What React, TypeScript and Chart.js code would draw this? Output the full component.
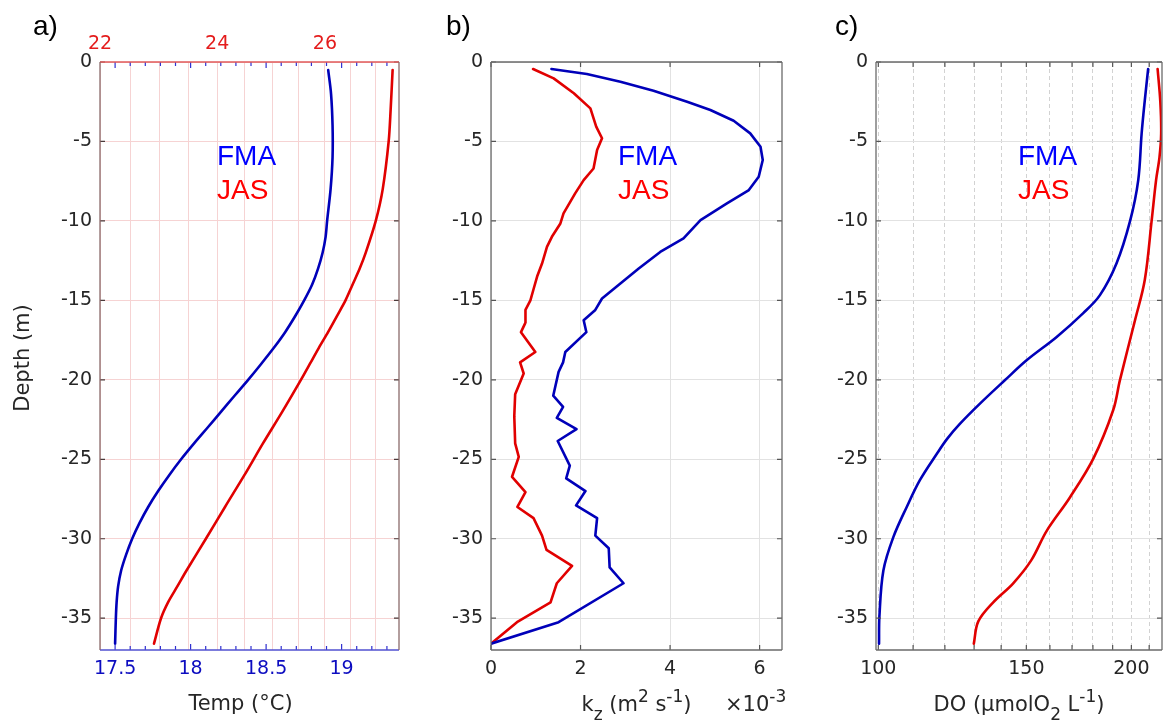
import React, { useEffect, useRef } from 'react';
import { Chart, registerables } from 'chart.js';

Chart.register(...registerables);

// ---------------- data ----------------
const depthTickValues = [-35, -30, -25, -20, -15, -10, -5, 0];

// a) temperature (FMA on bottom axis, JAS on top axis)
const tempFmaDepth = [-0.5, -2, -4, -6, -8, -10, -11, -12, -13, -14, -15, -16, -17, -18, -19, -20, -21, -22, -23, -24, -25, -26, -27, -28, -29, -30, -31, -32, -33, -34, -35, -36.6];
const tempFmaValue = [18.911, 18.93, 18.94, 18.94, 18.927, 18.904, 18.894, 18.874, 18.844, 18.805, 18.752, 18.692, 18.626, 18.55, 18.467, 18.381, 18.291, 18.202, 18.113, 18.023, 17.937, 17.858, 17.785, 17.719, 17.662, 17.613, 17.573, 17.54, 17.52, 17.51, 17.505, 17.5];
const tempJasDepth = [-0.5, -3, -5, -8, -10, -12, -13, -14, -15, -16, -17, -18, -19, -20, -22, -24, -26, -28, -30, -32, -33, -34, -35, -36.6];
const tempJasValue = [27.34, 27.3, 27.26, 27.14, 27.0, 26.8, 26.68, 26.54, 26.4, 26.23, 26.06, 25.88, 25.71, 25.54, 25.19, 24.83, 24.49, 24.14, 23.8, 23.46, 23.3, 23.14, 23.02, 22.9];
const tempBottomTicks = [17.5, 18, 18.5, 19];
const tempBottomMinor = [17.5, 17.6, 17.7, 17.8, 17.9, 18, 18.1, 18.2, 18.3, 18.4, 18.5, 18.6, 18.7, 18.8, 18.9, 19, 19.1, 19.2, 19.3];
const tempTopTicks = [22, 22.5, 23, 23.5, 24, 24.5, 25, 25.5, 26, 26.5, 27];
const tempTopLabels = [22, 24, 26];

// b) kz (x10^-3)
const kzFmaDepth = [-0.44, -0.76, -1.24, -1.81, -2.5, -3.02, -3.7, -4.49, -5.33, -6.17, -7.22, -8.06, -8.9, -9.95, -11.1, -11.95, -13.0, -13.94, -14.88, -15.6, -16.25, -17.0, -18.25, -18.9, -19.5, -21.0, -21.7, -22.4, -23.1, -23.85, -25.4, -26.2, -27.0, -27.9, -28.7, -29.8, -30.6, -31.8, -32.8, -35.25, -36.6];
const kzFmaValue = [1.35, 2.14, 2.89, 3.63, 4.38, 4.9, 5.42, 5.79, 6.02, 6.07, 5.98, 5.76, 5.27, 4.68, 4.3, 3.78, 3.3, 2.89, 2.48, 2.33, 2.07, 2.13, 1.66, 1.61, 1.51, 1.39, 1.61, 1.47, 1.91, 1.49, 1.76, 1.68, 2.11, 1.9, 2.37, 2.33, 2.63, 2.65, 2.96, 1.51, 0];
const kzJasDepth = [-0.44, -1.03, -1.97, -2.92, -4.07, -4.8, -5.54, -6.7, -7.43, -8.27, -9.53, -10.16, -11.0, -11.63, -12.68, -13.5, -14.3, -15.0, -15.6, -16.4, -17.0, -18.25, -18.9, -19.6, -20.9, -22.3, -24.0, -24.85, -26.1, -27.06, -28.0, -28.7, -29.8, -30.7, -31.7, -32.8, -34.0, -35.25, -36.6];
const kzJasValue = [0.94, 1.4, 1.85, 2.22, 2.35, 2.48, 2.37, 2.29, 2.07, 1.88, 1.62, 1.55, 1.36, 1.25, 1.14, 1.03, 0.95, 0.88, 0.77, 0.77, 0.67, 0.99, 0.65, 0.73, 0.54, 0.52, 0.54, 0.62, 0.47, 0.77, 0.59, 0.95, 1.14, 1.24, 1.81, 1.47, 1.33, 0.58, 0];
const kzTicks = [0, 2, 4, 6];

// c) dissolved oxygen (log axis)
const doFmaDepth = [-0.44, -2.4, -4.5, -7.43, -10, -12.68, -14.67, -15.8, -17.3, -18.77, -20.03, -21.5, -22.76, -23.7, -24.65, -26.3, -28.0, -29.9, -32.0, -34.9, -36.6];
const doFmaValue = [209.4, 207.5, 205.7, 203.8, 199.3, 192.0, 183.5, 175.3, 163.0, 150.1, 141.4, 132.1, 125.1, 120.8, 117.4, 112.1, 108.1, 104.2, 101.4, 100.3, 100.2];
const doJasDepth = [-0.44, -2.5, -4.5, -6, -7.43, -10, -13.7, -16.25, -20.03, -21.9, -24.96, -27.4, -29.5, -31.36, -32.8, -34.0, -35.2, -36.6];
const doJasValue = [214.9, 216.5, 217.0, 216.0, 214.0, 211.4, 207.5, 202.0, 193.8, 190.3, 180.2, 169.0, 158.6, 152.0, 144.7, 137.0, 131.5, 129.9];
const doTicks = [100, 110, 120, 130, 140, 150, 160, 170, 180, 190, 200, 210];
const doLabels = [100, 150, 200];

// ---------------- styles ----------------
const DEJAVU = "'DejaVu Sans', sans-serif";
const ARIAL = "'Liberation Sans', Arial, sans-serif";
const TICK_FONT = { family: DEJAVU, size: 19 };
const TICK_COLOR = '#262626';
const BLUE_LINE = 'rgb(0,0,185)';
const RED_LINE = 'rgb(225,0,0)';
const H = 723;

type Part = { t: string; sub?: boolean; sup?: boolean };
type TextItem = {
  x: number | 'center'; y: number; parts: Part[]; size: number; family: string; color: string;
  align?: 'left' | 'center'; rotate?: number; baseline?: CanvasTextBaseline; small?: number;
};
type TickSpec = { scale: string; values: number[]; len: number; major?: number[]; majorLen?: number; color: string; top?: boolean; bottom?: boolean };

const pts = (depth: number[], value: number[]) => depth.map((d, i) => ({ x: value[i], y: d }));
const fixedTicks = (vals: number[]) => (scale: any) => { scale.ticks = vals.map((v) => ({ value: v })); };

function makeTextPlugin(items: TextItem[], offsetX: number) {
  return {
    id: 'richText',
    afterDraw(chart: any) {
      const ctx = chart.ctx as CanvasRenderingContext2D;
      for (const it of items) {
        const small = it.small ?? Math.round(it.size * 0.8);
        const fontOf = (p: Part) => `${p.sub || p.sup ? small : it.size}px ${it.family}`;
        let total = 0;
        const widths = it.parts.map((p) => { ctx.font = fontOf(p); const w = ctx.measureText(p.t).width; total += w; return w; });
        const cx = it.x === 'center' ? (chart.chartArea.left + chart.chartArea.right) / 2 : it.x - offsetX;
        ctx.save();
        ctx.translate(cx, it.y);
        if (it.rotate) ctx.rotate(it.rotate);
        ctx.fillStyle = it.color;
        ctx.textBaseline = it.baseline ?? 'alphabetic';
        ctx.textAlign = 'left';
        let x = it.align === 'center' ? -total / 2 : 0;
        it.parts.forEach((p, i) => {
          ctx.font = fontOf(p);
          const dy = p.sub ? it.size * 0.42 : p.sup ? -it.size * 0.45 : 0;
          ctx.fillText(p.t, x, dy);
          x += widths[i];
        });
        ctx.restore();
      }
    },
  };
}

function makeTicksPlugin(specs: TickSpec[]) {
  return {
    id: 'innerTicks',
    afterDatasetsDraw(chart: any) {
      const { ctx, chartArea: { left, right, top, bottom } } = chart;
      ctx.save();
      ctx.lineWidth = 1.2;
      for (const s of specs) {
        const scale = chart.scales[s.scale];
        ctx.strokeStyle = s.color;
        for (const v of s.values) {
          const p = scale.getPixelForValue(v);
          const len = s.major && s.major.includes(v) ? (s.majorLen ?? s.len) : s.len;
          ctx.beginPath();
          if (scale.isHorizontal()) {
            if (s.bottom) { ctx.moveTo(p, bottom); ctx.lineTo(p, bottom - len); }
            if (s.top) { ctx.moveTo(p, top); ctx.lineTo(p, top + len); }
          } else {
            ctx.moveTo(left, p); ctx.lineTo(left + len, p);
            ctx.moveTo(right, p); ctx.lineTo(right - len, p);
          }
          ctx.stroke();
        }
      }
      ctx.restore();
    },
  };
}

function makeFramePlugin(c: { top: string; bottom: string; left: string; right: string }) {
  return {
    id: 'frame',
    afterDatasetsDraw(chart: any) {
      const { ctx, chartArea: { left, right, top, bottom } } = chart;
      const line = (x1: number, y1: number, x2: number, y2: number, col: string) => {
        ctx.strokeStyle = col; ctx.lineWidth = 1.3; ctx.beginPath(); ctx.moveTo(x1, y1); ctx.lineTo(x2, y2); ctx.stroke();
      };
      ctx.save();
      line(left, top, right, top, c.top);
      line(left, bottom, right, bottom, c.bottom);
      line(left, top, left, bottom, c.left);
      line(right, top, right, bottom, c.right);
      ctx.restore();
    },
  };
}

const depthAxis = (width: number, gridColor: string) => ({
  type: 'linear', position: 'left', min: -37, max: 0, bounds: 'data',
  afterBuildTicks: fixedTicks(depthTickValues),
  afterFit: (s: any) => { s.width = width; },
  ticks: { color: TICK_COLOR, font: TICK_FONT, padding: 8, autoSkip: false, callback: (v: any) => String(v) },
  grid: { color: gridColor, lineWidth: 1, drawTicks: false },
  border: { display: false },
});

const lineDs = (label: string, data: any[], color: string, xAxisID: string, tension: number) => ({
  label, data, xAxisID, yAxisID: 'y', showLine: true, borderColor: color, backgroundColor: color,
  borderWidth: 2.6, pointRadius: 0, tension, fill: false, borderJoinStyle: 'round', borderCapStyle: 'round',
});

const baseOptions = (padding: any) => ({
  animation: false, responsive: false, devicePixelRatio: 1, maintainAspectRatio: false,
  layout: { padding },
  plugins: { legend: { display: false }, tooltip: { enabled: false }, title: { display: false } },
  events: [],
});

function buildA(): any {
  const items: TextItem[] = [
    { x: 33, y: 34.5, parts: [{ t: 'a)' }], size: 28, family: ARIAL, color: '#000' },
    { x: 217, y: 165, parts: [{ t: 'FMA' }], size: 28, family: ARIAL, color: '#0000ff' },
    { x: 217, y: 198.5, parts: [{ t: 'JAS' }], size: 28, family: ARIAL, color: '#ff0000' },
    { x: 24, y: 358, parts: [{ t: 'Depth (m)' }], size: 21, family: DEJAVU, color: TICK_COLOR, align: 'center', rotate: -Math.PI / 2, baseline: 'middle' },
    { x: 240.5, y: 709.5, parts: [{ t: 'Temp (°C)' }], size: 21, family: DEJAVU, color: TICK_COLOR, align: 'center' },
  ];
  return {
    type: 'scatter',
    data: {
      datasets: [
        lineDs('FMA', pts(tempFmaDepth, tempFmaValue), BLUE_LINE, 'x', 0.3),
        lineDs('JAS', pts(tempJasDepth, tempJasValue), RED_LINE, 'x2', 0.3),
      ],
    },
    options: {
      ...baseOptions({ left: 0, right: 21, top: 0, bottom: 0 }),
      scales: {
        x: {
          type: 'linear', position: 'bottom', min: 17.4, max: 19.38, bounds: 'data',
          afterBuildTicks: fixedTicks(tempBottomTicks),
          afterFit: (s: any) => { s.height = 73; },
          ticks: { color: '#0c0cc0', font: TICK_FONT, padding: 8, autoSkip: false, maxRotation: 0, callback: (v: any) => String(v) },
          grid: { display: false, drawTicks: false },
          border: { display: false },
        },
        x2: {
          type: 'logarithmic', position: 'top', min: 22, max: 27.47, bounds: 'data',
          afterBuildTicks: fixedTicks(tempTopTicks),
          afterFit: (s: any) => { s.height = 62; },
          ticks: { color: '#e41c1c', font: TICK_FONT, padding: 7, autoSkip: false, maxRotation: 0, callback: (v: any) => (tempTopLabels.includes(v) ? String(v) : '') },
          grid: { color: '#f6d3d3', lineWidth: 1, drawTicks: false },
          border: { display: false },
        },
        y: depthAxis(100, '#f6d3d3'),
      },
    },
    plugins: [
      makeTicksPlugin([
        { scale: 'x', values: tempBottomMinor, len: 4, major: tempBottomTicks, majorLen: 6, color: '#3030d0', top: true, bottom: true },
        { scale: 'y', values: depthTickValues, len: 5, color: '#4a3a3a' },
      ]),
      makeFramePlugin({ top: '#e05a5a', bottom: '#5050d0', left: '#8a6a6a', right: '#8a6a6a' }),
      makeTextPlugin(items, 0),
    ],
  };
}

function buildB(): any {
  const off = 420;
  const items: TextItem[] = [
    { x: 446, y: 34.5, parts: [{ t: 'b)' }], size: 28, family: ARIAL, color: '#000' },
    { x: 618, y: 165, parts: [{ t: 'FMA' }], size: 28, family: ARIAL, color: '#0000ff' },
    { x: 618, y: 198.5, parts: [{ t: 'JAS' }], size: 28, family: ARIAL, color: '#ff0000' },
    { x: 'center', y: 711, parts: [{ t: 'k' }, { t: 'z', sub: true }, { t: ' (m' }, { t: '2', sup: true }, { t: ' s' }, { t: '-1', sup: true }, { t: ')' }], size: 21, family: DEJAVU, color: TICK_COLOR, align: 'center' },
    { x: 725, y: 711, parts: [{ t: '×10' }, { t: '-3', sup: true }], size: 21, family: DEJAVU, color: TICK_COLOR },
  ];
  return {
    type: 'scatter',
    data: {
      datasets: [
        lineDs('FMA', pts(kzFmaDepth, kzFmaValue), BLUE_LINE, 'x', 0),
        lineDs('JAS', pts(kzJasDepth, kzJasValue), RED_LINE, 'x', 0),
      ],
    },
    options: {
      ...baseOptions({ left: 0, right: 18, top: 62, bottom: 0 }),
      scales: {
        x: {
          type: 'linear', position: 'bottom', min: 0, max: 6.5, bounds: 'data',
          afterBuildTicks: fixedTicks(kzTicks),
          afterFit: (s: any) => { s.height = 73; },
          ticks: { color: TICK_COLOR, font: TICK_FONT, padding: 8, autoSkip: false, maxRotation: 0, callback: (v: any) => String(v) },
          grid: { color: '#e2e2e2', lineWidth: 1, drawTicks: false },
          border: { display: false },
        },
        y: depthAxis(71, '#e2e2e2'),
      },
    },
    plugins: [
      makeTicksPlugin([
        { scale: 'x', values: kzTicks, len: 5, color: '#555', top: true, bottom: true },
        { scale: 'y', values: depthTickValues, len: 5, color: '#555' },
      ]),
      makeFramePlugin({ top: '#6a6a6a', bottom: '#6a6a6a', left: '#6a6a6a', right: '#6a6a6a' }),
      makeTextPlugin(items, off),
    ],
  };
}

function buildC(): any {
  const off = 800;
  const items: TextItem[] = [
    { x: 835, y: 34.5, parts: [{ t: 'c)' }], size: 28, family: ARIAL, color: '#000' },
    { x: 1018, y: 165, parts: [{ t: 'FMA' }], size: 28, family: ARIAL, color: '#0000ff' },
    { x: 1018, y: 198.5, parts: [{ t: 'JAS' }], size: 28, family: ARIAL, color: '#ff0000' },
    { x: 'center', y: 711, parts: [{ t: 'DO (μmolO' }, { t: '2', sub: true }, { t: ' L' }, { t: '-1', sup: true }, { t: ')' }], size: 21, family: DEJAVU, color: TICK_COLOR, align: 'center' },
  ];
  return {
    type: 'scatter',
    data: {
      datasets: [
        lineDs('FMA', pts(doFmaDepth, doFmaValue), BLUE_LINE, 'x', 0.35),
        lineDs('JAS', pts(doJasDepth, doJasValue), RED_LINE, 'x', 0.35),
      ],
    },
    options: {
      ...baseOptions({ left: 0, right: 1, top: 62, bottom: 0 }),
      scales: {
        x: {
          type: 'logarithmic', position: 'bottom', min: 99.37, max: 217.5, bounds: 'data',
          afterBuildTicks: fixedTicks(doTicks),
          afterFit: (s: any) => { s.height = 73; },
          ticks: { color: TICK_COLOR, font: TICK_FONT, padding: 8, autoSkip: false, maxRotation: 0, callback: (v: any) => (doLabels.includes(v) ? String(v) : '') },
          grid: { color: '#d2d2d2', lineWidth: 1, drawTicks: false },
          border: { display: false, dash: [4, 3] },
        },
        y: depthAxis(76, '#e2e2e2'),
      },
    },
    plugins: [
      makeTicksPlugin([
        { scale: 'x', values: doTicks, len: 5, color: '#555', top: true, bottom: true },
        { scale: 'y', values: depthTickValues, len: 5, color: '#555' },
      ]),
      makeFramePlugin({ top: '#6a6a6a', bottom: '#6a6a6a', left: '#6a6a6a', right: '#6a6a6a' }),
      makeTextPlugin(items, off),
    ],
  };
}

function Panel({ left, width, build }: { left: number; width: number; build: () => any }) {
  const ref = useRef<HTMLCanvasElement>(null);
  useEffect(() => {
    const chart = new Chart(ref.current as HTMLCanvasElement, build());
    return () => chart.destroy();
  }, []);
  return (
    <canvas
      ref={ref}
      width={width}
      height={H}
      style={{ position: 'absolute', left, top: 0, width, height: H, display: 'block' }}
    />
  );
}

export default function App() {
  return (
    <div style={{ position: 'absolute', left: 0, top: 0, width: 1163, height: H, background: '#fff', overflow: 'hidden' }}>
      <Panel left={0} width={420} build={buildA} />
      <Panel left={420} width={380} build={buildB} />
      <Panel left={800} width={363} build={buildC} />
    </div>
  );
}
